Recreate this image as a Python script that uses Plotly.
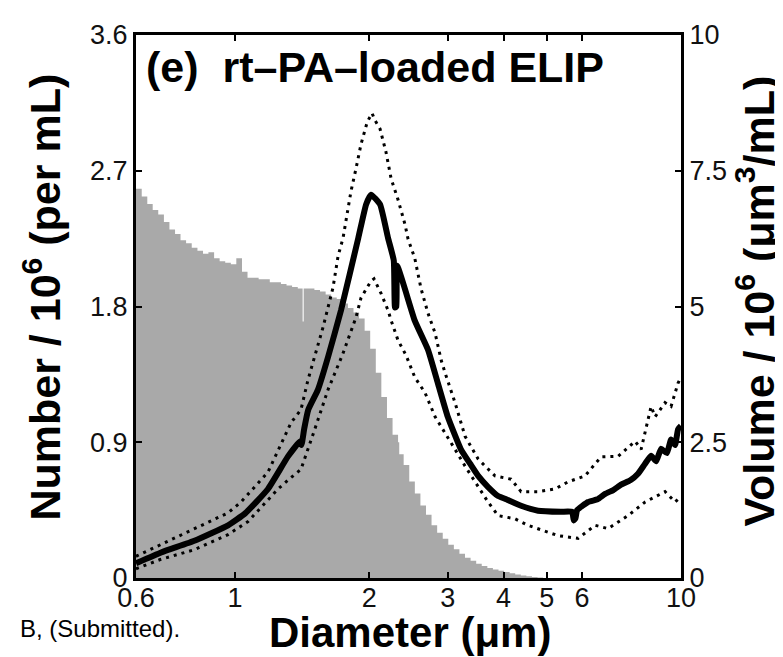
import numpy as np
import plotly.graph_objects as go

# ---------------- data ----------------
# Number histogram (left axis): left bin edges (um) and counts (x10^6 per mL)
hist_left = [0.600, 0.618, 0.636, 0.654, 0.673, 0.693, 0.713, 0.734, 0.755, 0.777,
             0.800, 0.824, 0.848, 0.872, 0.898, 0.924, 0.951, 0.979, 1.007, 1.037,
             1.067, 1.098, 1.130, 1.163, 1.197, 1.232, 1.268, 1.305, 1.343, 1.383,
             1.418, 1.426, 1.465, 1.507, 1.551, 1.597, 1.643, 1.691, 1.741, 1.792,
             1.844, 1.898, 1.953, 2.010, 2.069, 2.129, 2.192, 2.256, 2.321, 2.335,
             2.389, 2.459, 2.531, 2.605, 2.681, 2.759, 2.840, 2.923, 3.008, 3.096,
             3.186, 3.279, 3.375, 3.474, 3.575, 3.680, 3.787, 3.898, 4.012, 4.129,
             4.249, 4.374, 4.501, 4.633, 4.768]
hist_value = [2.58, 2.53, 2.48, 2.44, 2.41, 2.36, 2.31, 2.28, 2.24, 2.22,
              2.19, 2.17, 2.15, 2.16, 2.12, 2.10, 2.09, 2.08, 2.12, 2.03,
              1.99, 1.99, 1.98, 1.98, 1.96, 1.96, 1.95, 1.94, 1.93, 1.92,
              1.70, 1.92, 1.92, 1.91, 1.90, 1.88, 1.86, 1.85, 1.82, 1.79,
              1.76, 1.72, 1.64, 1.52, 1.36, 1.20, 1.06, 0.95, 0.90, 0.82,
              0.75, 0.64, 0.56, 0.48, 0.42, 0.35, 0.30, 0.26, 0.22, 0.19,
              0.16, 0.135, 0.115, 0.095, 0.08, 0.066, 0.056, 0.048, 0.040, 0.032,
              0.024, 0.017, 0.011, 0.006, 0.003]
hist_last_edge = 4.908

# Volume distribution (right axis, x10^6 um^3/mL): mean and mean +/- std
mean_d = [0.60, 0.683, 0.814, 0.965, 1.054, 1.186, 1.315, 1.40, 1.41, 1.43, 1.46,
          1.535, 1.617, 1.729, 1.89, 1.968, 2.019, 2.115, 2.204, 2.27, 2.285, 2.30,
          2.31, 2.53, 2.71, 2.85, 3.00, 3.21, 3.37, 3.51, 3.69, 3.89, 4.03, 4.38,
          4.78, 5.38, 5.70, 5.75, 5.80, 5.85, 6.19, 6.50, 6.76, 7.05, 7.34, 7.70,
          8.01, 8.30, 8.57, 8.80, 9.02, 9.30, 9.50, 9.70, 9.85, 10.0]
mean_v = [0.27, 0.47, 0.69, 0.97, 1.19, 1.64, 2.24, 2.52, 2.45, 2.75, 3.10,
          3.47, 4.07, 4.93, 6.26, 6.88, 7.06, 6.88, 6.26, 5.85, 4.98, 5.00,
          5.75, 4.74, 4.20, 3.59, 2.97, 2.37, 2.10, 1.88, 1.68, 1.51, 1.46, 1.33,
          1.24, 1.22, 1.22, 1.06, 1.10, 1.25, 1.40, 1.45, 1.55, 1.62, 1.72, 1.80,
          1.92, 2.10, 2.25, 2.15, 2.38, 2.30, 2.55, 2.45, 2.74, 2.80]

upper_d = [0.60, 0.68, 0.81, 0.965, 1.032, 1.186, 1.336, 1.406, 1.458, 1.535, 1.576,
           1.659, 1.703, 1.747, 1.82, 1.868, 1.917, 1.98, 2.029, 2.06, 2.115, 2.18,
           2.24, 2.32, 2.406, 2.444, 2.53, 2.613, 2.71, 2.81, 2.90, 2.958, 3.114,
           3.28, 3.51, 3.828, 4.158, 4.38, 4.78, 5.22, 5.58, 6.09, 6.62, 7.23, 7.89,
           8.14, 8.57, 8.75, 9.21, 9.50, 9.85, 10.0]
upper_v = [0.40, 0.61, 0.90, 1.20, 1.40, 1.95, 2.86, 3.10, 3.65, 4.32, 4.62,
           5.35, 5.93, 6.26, 7.12, 7.54, 7.99, 8.40, 8.56, 8.43, 8.27, 7.85,
           7.35, 6.97, 6.51, 6.24, 5.89, 5.33, 4.87, 4.51, 4.01, 3.78, 3.23,
           2.61, 2.19, 1.88, 1.82, 1.59, 1.59, 1.64, 1.77, 1.88, 2.23, 2.24, 2.52,
           2.37, 3.16, 2.97, 3.23, 3.16, 3.59, 3.70]

lower_d = [0.60, 0.68, 0.81, 0.965, 1.07, 1.249, 1.336, 1.406, 1.51, 1.617, 1.74,
           1.79, 1.82, 1.868, 1.917, 2.019, 2.05, 2.09, 2.126, 2.204, 2.24, 2.32,
           2.419, 2.53, 2.668, 2.81, 2.958, 3.114, 3.28, 3.453, 3.693, 3.89, 4.245,
           4.54, 5.30, 5.88, 6.42, 6.86, 7.61, 8.31, 9.21, 9.70, 10.0]
lower_v = [0.17, 0.34, 0.52, 0.80, 1.04, 1.64, 1.85, 2.00, 2.74, 3.47, 4.10,
           4.38, 4.56, 4.80, 5.16, 5.47, 5.51, 5.38, 5.24, 4.93, 4.74, 4.38,
           4.10, 3.70, 3.41, 2.97, 2.68, 2.37, 2.06, 1.77, 1.40, 1.15, 1.09,
           0.97, 0.78, 0.73, 0.97, 0.91, 1.15, 1.40, 1.59, 1.40, 1.50]

x_tickvals = [0.6, 1, 2, 3, 4, 5, 6, 10]
x_ticktext = ["0.6", "1", "2", "3", "4", "5", "6", "10"]
yl_tickvals = [0, 0.9, 1.8, 2.7, 3.6]
yl_ticktext = ["0", "0.9", "1.8", "2.7", "3.6"]
yr_tickvals = [0, 2.5, 5, 7.5, 10]
yr_ticktext = ["0", "2.5", "5", "7.5", "10"]

# ---------------- figure ----------------
FONT = "Liberation Sans, Arial, Helvetica, sans-serif"
W, H = 783, 657
ML, MR, MT, MB = 128, 110, 22, 87
PW, PH = W - ML - MR, H - MT - MB


def px_x(px):
    return (px - ML) / PW


def px_y(py):
    return (H - MB - py) / PH


hx = list(hist_left) + [hist_last_edge]
hy = list(hist_value) + [hist_value[-1]]

fig = go.Figure()
fig.add_trace(go.Scatter(x=hx, y=hy, mode="lines", line_shape="hv",
                         fill="tozeroy", fillcolor="#a9a9a9",
                         line=dict(width=0, color="#a9a9a9"), yaxis="y",
                         hoverinfo="skip"))
fig.add_trace(go.Scatter(x=upper_d, y=upper_v, mode="lines", yaxis="y2",
                         line=dict(color="black", width=3, dash="3px,5px")))
fig.add_trace(go.Scatter(x=lower_d, y=lower_v, mode="lines", yaxis="y2",
                         line=dict(color="black", width=3, dash="3px,5px")))
fig.add_trace(go.Scatter(x=mean_d, y=mean_v, mode="lines", yaxis="y2",
                         line=dict(color="black", width=6, shape="spline", smoothing=0.4)))

tickfont = dict(family=FONT, size=27, color="#111")
fig.update_layout(
    width=W, height=H,
    margin=dict(l=ML, r=MR, t=MT, b=MB),
    paper_bgcolor="white", plot_bgcolor="white",
    showlegend=False,
    xaxis=dict(type="log", range=[np.log10(0.6), 1], tickvals=x_tickvals,
               ticktext=x_ticktext, ticks="inside", ticklen=6, tickwidth=2,
               tickcolor="black", showline=True, linecolor="black", linewidth=3,
               mirror="ticks", showgrid=False, zeroline=False, tickfont=tickfont,
               ticklabelstandoff=-6),
    yaxis=dict(range=[0, 3.6], tickvals=yl_tickvals, ticktext=yl_ticktext,
               ticks="inside", ticklen=6, tickwidth=2, tickcolor="black",
               showline=True, linecolor="black", linewidth=3, showgrid=False,
               zeroline=False, tickfont=tickfont),
    yaxis2=dict(range=[0, 10], tickvals=yr_tickvals, ticktext=yr_ticktext,
                overlaying="y", side="right", ticks="inside", ticklen=6,
                tickwidth=2, tickcolor="black", showline=True, linecolor="black",
                linewidth=3, showgrid=False, zeroline=False, tickfont=tickfont),
)

bold43 = dict(family=FONT, size=43, color="black", weight="bold")
fig.add_annotation(text="(e)  rt\u2013PA\u2013loaded ELIP", xref="paper", yref="paper",
                   x=px_x(136), y=px_y(54), xanchor="left", yanchor="middle",
                   showarrow=False, font=bold43)
fig.add_annotation(text="Number / 10<sup>6</sup> (per mL)", xref="paper", yref="paper",
                   x=px_x(34), y=px_y(287), xanchor="center", yanchor="middle",
                   textangle=-90, showarrow=False, font=bold43)
fig.add_annotation(text="Volume / 10<sup>6</sup> (\u03bcm<sup>3</sup>/mL)", xref="paper", yref="paper",
                   x=px_x(747), y=px_y(291), xanchor="center", yanchor="middle",
                   textangle=-90, showarrow=False, font=bold43)
fig.add_annotation(text="Diameter (\u03bcm)", xref="paper", yref="paper",
                   x=px_x(402), y=px_y(625), xanchor="center", yanchor="middle",
                   showarrow=False, font=dict(family=FONT, size=42, color="black", weight="bold"))
fig.add_annotation(text="B, (Submitted).", xref="paper", yref="paper",
                   x=px_x(174), y=px_y(621), xanchor="right", yanchor="middle",
                   showarrow=False, font=dict(family=FONT, size=24, color="black"))

fig.write_html("out.html")
